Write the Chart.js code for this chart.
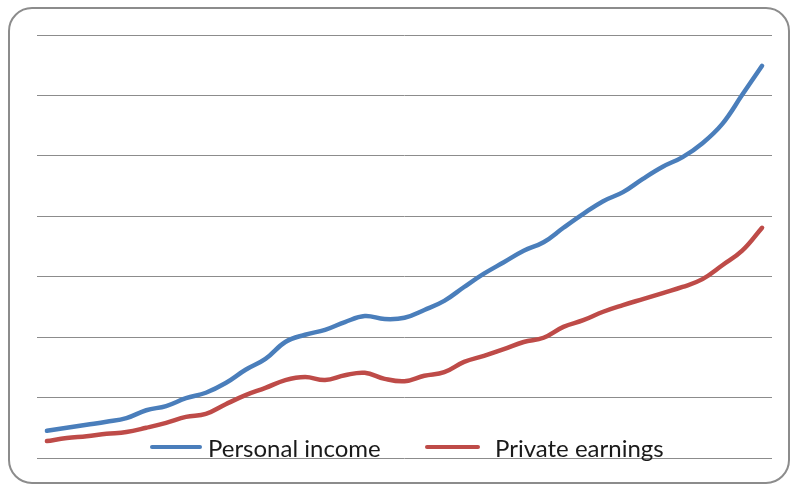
<!DOCTYPE html>
<html>
<head>
<meta charset="utf-8">
<script src="https://cdn.jsdelivr.net/npm/chart.js@4/dist/chart.umd.min.js"></script>
<style>
  html, body { margin: 0; padding: 0; background: #fff; overflow: hidden; }
  #wrap { position: relative; width: 790px; height: 485px; }
  #frame {
    position: absolute; left: 8px; top: 7px; width: 778px; height: 473px;
    border: 2px solid #8c8c8c; border-radius: 24px;
  }
  #chart { position: absolute; left: 0; top: 0; }
  .legend-item { position: absolute; top: 432px; height: 30px; display: flex; align-items: center;
    font-family: Lato, "Noto Sans", sans-serif; font-size: 24px; color: #1a1a1a; white-space: nowrap; }
  .swatch { display: inline-block; height: 4px; border-radius: 2px; margin-right: 6px; }
</style>
</head>
<body>
<div id="wrap">
  <div id="frame"></div>
  <canvas id="chart" width="790" height="485"></canvas>
  <div id="legend"></div>
</div>
<script>
// roughly one point per year, axis labels are not shown on the chart
const years = [];
for (let y = 1975; y <= 2011; y++) years.push(String(y));

const personalIncome = [0.45, 0.50, 0.55, 0.60, 0.66, 0.79, 0.86, 0.99, 1.08, 1.24,
  1.46, 1.64, 1.92, 2.04, 2.12, 2.25, 2.35, 2.30, 2.32, 2.45,
  2.60, 2.83, 3.05, 3.24, 3.43, 3.57, 3.81, 4.04, 4.25, 4.40,
  4.62, 4.82, 4.98, 5.21, 5.53, 6.01, 6.49];

const privateEarnings = [0.28, 0.33, 0.36, 0.40, 0.43, 0.50, 0.58, 0.68, 0.73, 0.89,
  1.04, 1.16, 1.29, 1.34, 1.29, 1.37, 1.41, 1.31, 1.27, 1.36,
  1.42, 1.59, 1.69, 1.80, 1.92, 1.99, 2.17, 2.28, 2.42, 2.53,
  2.63, 2.73, 2.83, 2.96, 3.19, 3.43, 3.81];

const seriesNames = ['Personal income', 'Private earnings'];
const seriesColors = ['#4a7ebb', '#be4b48'];

const chart = new Chart(document.getElementById('chart'), {
  type: 'line',
  data: {
    labels: years,
    datasets: [
      { label: seriesNames[0], data: personalIncome, borderColor: seriesColors[0] },
      { label: seriesNames[1], data: privateEarnings, borderColor: seriesColors[1] }
    ]
  },
  options: {
    responsive: false,
    animation: false,
    layout: { padding: { left: 37, right: 18, top: 35, bottom: 27 } },
    elements: {
      line: { borderWidth: 4.5, tension: 0.4, borderCapStyle: 'round', fill: false },
      point: { radius: 0 }
    },
    plugins: { legend: { display: false }, tooltip: { enabled: false } },
    scales: {
      x: { display: false, offset: true },
      y: {
        min: 0, max: 7,
        ticks: { display: false, stepSize: 1 },
        border: { display: false },
        grid: { color: '#8c8c8c', lineWidth: 1, drawTicks: false }
      }
    }
  }
});

// legend drawn as html, over the bottom of the plot area
const legendPos = [150, 425];
const legendSwatch = [52, 55];
const legend = document.getElementById('legend');
chart.data.datasets.forEach((ds, i) => {
  const item = document.createElement('div');
  item.className = 'legend-item';
  item.style.left = legendPos[i] + 'px';
  const sw = document.createElement('span');
  sw.className = 'swatch';
  sw.style.width = legendSwatch[i] + 'px';
  sw.style.background = ds.borderColor;
  if (i === 1) sw.style.marginRight = '15px';
  item.appendChild(sw);
  item.appendChild(document.createTextNode(ds.label));
  legend.appendChild(item);
});
</script>
</body>
</html>
